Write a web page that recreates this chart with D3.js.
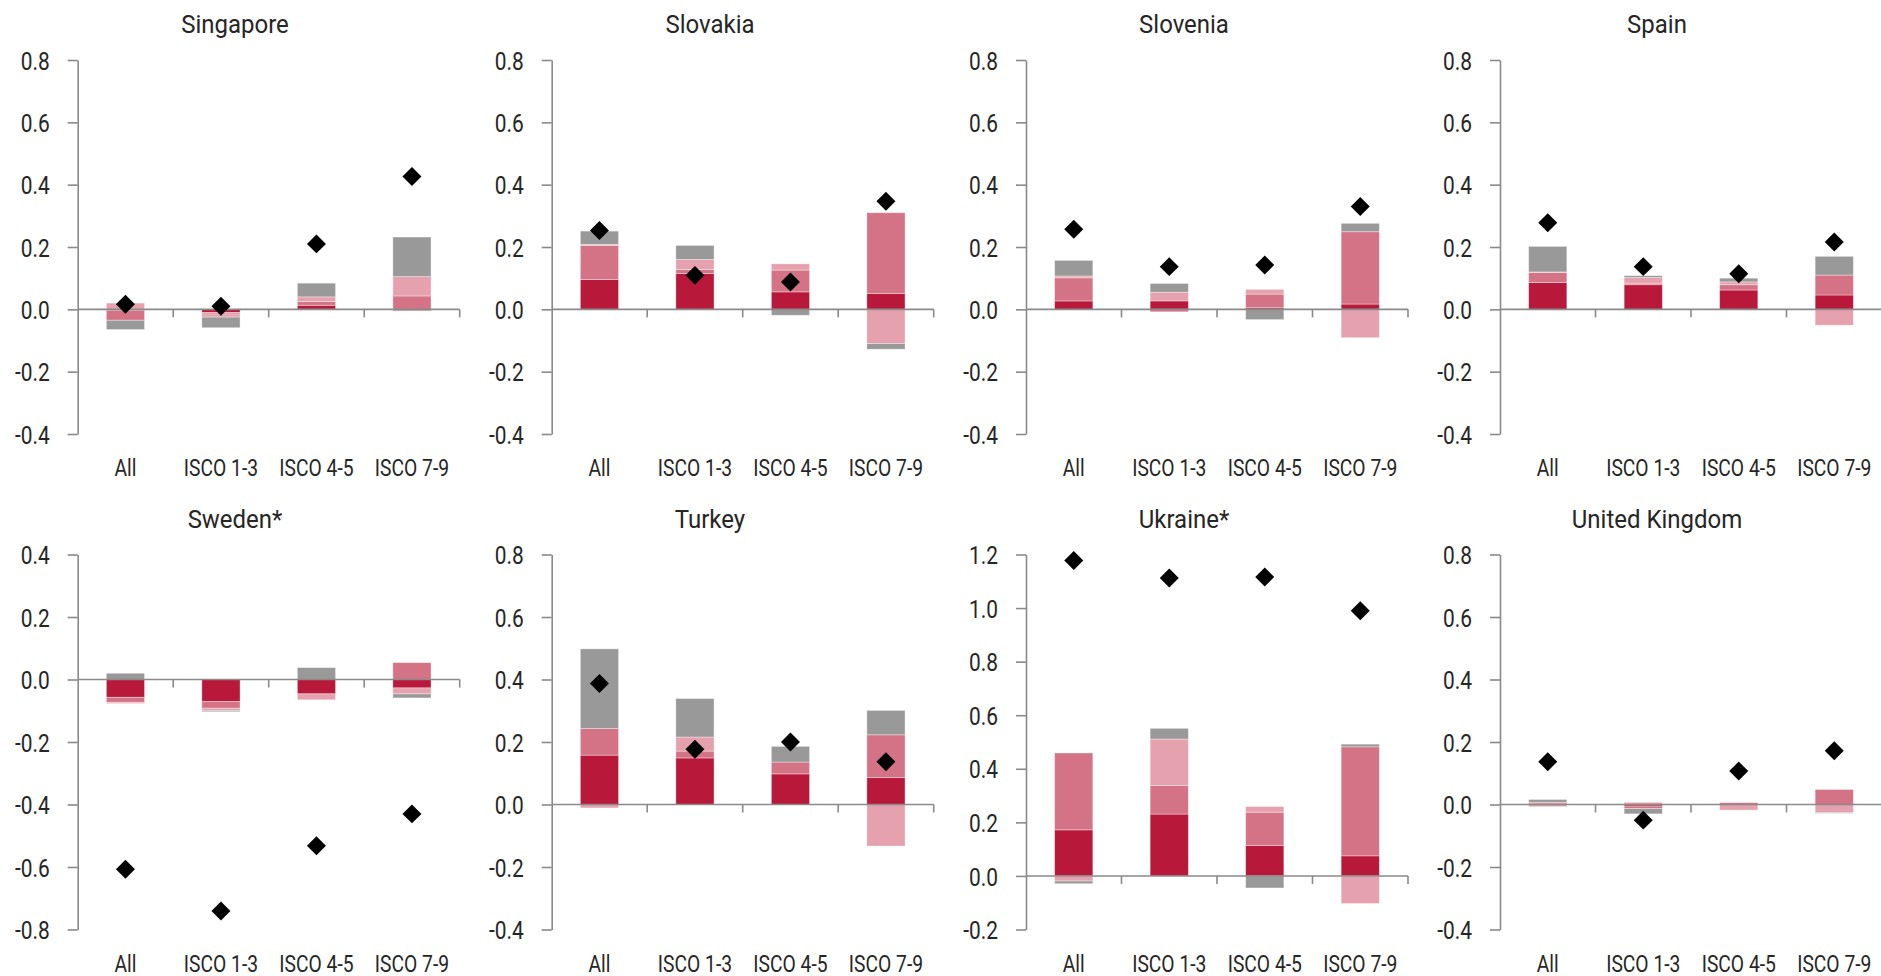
<!DOCTYPE html>
<html>
<head>
  <meta charset="utf-8">
  <script src="https://d3js.org/d3.v7.min.js"></script>
  <style>
    body { margin: 0; background: #fff; }
    text { font-family: Roboto, "Liberation Sans", sans-serif; font-weight: 400; fill: #262626; }
  </style>
</head>
<body>
  <script>
    "use strict";

    // chart values
    var countries = ["Singapore", "Slovakia", "Slovenia", "Spain",
                     "Sweden*", "Turkey", "Ukraine*", "United Kingdom"];
    var categories = ["All", "ISCO 1-3", "ISCO 4-5", "ISCO 7-9"];

    // four stacked components, one row per country
    var seriesA = [
      [-0.003, -0.010, 0.013, -0.004],
      [0.096, 0.115, 0.056, 0.051],
      [0.027, 0.027, 0.005, 0.017],
      [0.086, 0.079, 0.062, 0.046],
      [-0.057, -0.071, -0.046, -0.027],
      [0.158, 0.149, 0.098, 0.086],
      [0.172, 0.231, 0.114, 0.075],
      [0.002, -0.005, 0.000, 0.000]
    ];
    var seriesB = [
      [-0.032, -0.005, 0.012, 0.043],
      [0.109, 0.013, 0.070, 0.259],
      [0.074, -0.008, 0.044, 0.232],
      [0.032, 0.005, 0.017, 0.064],
      [-0.016, -0.021, 0.000, 0.054],
      [0.085, 0.022, 0.038, 0.137],
      [0.287, 0.107, 0.124, 0.407],
      [0.005, -0.008, 0.006, 0.048]
    ];
    var seriesC = [
      [0.020, -0.010, 0.015, 0.062],
      [0.003, 0.032, 0.020, -0.110],
      [0.006, 0.028, 0.015, -0.091],
      [0.002, 0.018, 0.009, -0.051],
      [-0.004, -0.007, -0.019, -0.019],
      [-0.011, 0.045, 0.000, -0.133],
      [-0.019, 0.173, 0.021, -0.103],
      [-0.007, 0.007, -0.018, -0.026]
    ];
    var seriesD = [
      [-0.030, -0.034, 0.044, 0.127],
      [0.043, 0.045, -0.019, -0.018],
      [0.050, 0.028, -0.033, 0.027],
      [0.082, 0.006, 0.012, 0.060],
      [0.020, -0.004, 0.038, -0.013],
      [0.255, 0.123, 0.050, 0.078],
      [-0.010, 0.040, -0.045, 0.010],
      [0.009, -0.017, 0.000, -0.002]
    ];
    // diamonds: total change
    var totals = [
      [0.016, 0.010, 0.210, 0.426],
      [0.253, 0.109, 0.088, 0.347],
      [0.257, 0.137, 0.142, 0.330],
      [0.278, 0.137, 0.114, 0.216],
      [-0.607, -0.741, -0.532, -0.430],
      [0.387, 0.177, 0.200, 0.137],
      [1.178, 1.112, 1.116, 0.990],
      [0.137, -0.050, 0.107, 0.172]
    ];
    var yMin = [-0.4, -0.4, -0.4, -0.4, -0.8, -0.4, -0.2, -0.4];
    var yMax = [0.8, 0.8, 0.8, 0.8, 0.4, 0.8, 1.2, 0.8];

    var allSeries = [seriesA, seriesB, seriesC, seriesD];
    var colors = ["#b8193a", "#d47386", "#e5a1ad", "#999999"];

    // layout
    var W = 1881, H = 976;
    var axisX = [77.7, 551.7, 1026, 1500];
    var titleX = [235, 710, 1184, 1657];
    var plotTop = [60, 554.5];
    var plotH = [374, 375];
    var plotW = 382;
    var axisColor = "#8a8a8a";
    var squeeze = 0.82;   // narrow the font like the condensed face of the original

    var svg = d3.select("body").append("svg")
        .attr("width", W)
        .attr("height", H);

    countries.forEach(function (name, ci) {
      var col = ci % 4, row = Math.floor(ci / 4);
      var x0 = axisX[col], top = plotTop[row], h = plotH[row];

      var g = svg.append("g").attr("transform", "translate(" + x0 + "," + top + ")");

      var x = d3.scaleBand().domain(categories).range([0, plotW]).paddingInner(0).paddingOuter(0);
      var y = d3.scaleLinear().domain([yMin[ci], yMax[ci]]).range([h, 0]);
      var barW = x.bandwidth() * 0.4;

      // title
      svg.append("text")
          .attr("transform", "translate(" + titleX[col] + "," + (top - 27) + ") scale(0.94,1)")
          .attr("text-anchor", "middle")
          .style("font-size", "25.5px")
          .text(name);

      // y axis
      var tv = d3.range(yMin[ci], yMax[ci] + 1e-9, 0.2).map(function (v) { return Math.round(v * 10) / 10; });
      var yAxis = g.append("g")
          .call(d3.axisLeft(y).tickValues(tv).tickSize(10).tickSizeOuter(0).tickPadding(18)
            .tickFormat(function (d) { return d.toFixed(1); }));
      yAxis.select(".domain").attr("stroke", axisColor).attr("stroke-width", 1.6);
      yAxis.selectAll(".tick line").attr("stroke", axisColor).attr("stroke-width", 1.6);
      yAxis.attr("font-family", null).attr("font-size", null);
      yAxis.selectAll(".tick text")
          .attr("x", -28 / squeeze)
          .attr("dy", "0.36em")
          .attr("transform", "scale(" + squeeze + ",1)")
          .attr("fill", null)
          .style("font-size", "25.5px");

      // stacked bars (positives stack up, negatives stack down)
      var segs = [];
      categories.forEach(function (cat, k) {
        var pos = 0, neg = 0;
        allSeries.forEach(function (s, si) {
          var v = s[ci][k];
          if (v >= 0) { segs.push({cat: cat, si: si, y0: pos, y1: pos + v}); pos += v; }
          else { segs.push({cat: cat, si: si, y0: neg + v, y1: neg}); neg += v; }
        });
      });

      g.selectAll("rect.seg").data(segs).enter().append("rect")
          .attr("class", "seg")
          .attr("x", function (d) { return x(d.cat) + (x.bandwidth() - barW) / 2; })
          .attr("width", barW)
          .attr("y", function (d) { return y(d.y1); })
          .attr("height", function (d) { return Math.max(0, y(d.y0) - y(d.y1)); })
          .attr("fill", function (d) { return colors[d.si]; })
          .attr("stroke", "#fff")
          .attr("stroke-opacity", 0.45)
          .attr("stroke-width", 0.8);

      // category axis through zero
      var zeroAxis = g.append("g")
          .attr("transform", "translate(0," + y(0) + ")");
      zeroAxis.append("line")
          .attr("x1", 0).attr("x2", plotW)
          .attr("stroke", axisColor).attr("stroke-width", 1.6);
      zeroAxis.selectAll("line.ct").data(categories).enter().append("line")
          .attr("class", "ct")
          .attr("x1", function (d) { return x(d) + x.step(); })
          .attr("x2", function (d) { return x(d) + x.step(); })
          .attr("y1", 0).attr("y2", 8)
          .attr("stroke", axisColor).attr("stroke-width", 1.6);

      // category labels at the bottom of the plot
      g.selectAll("text.cat").data(categories).enter().append("text")
          .attr("class", "cat")
          .attr("transform", function (d) {
            return "translate(" + (x(d) + x.bandwidth() / 2) + "," + (h + 42) + ") scale(" + squeeze + ",1)";
          })
          .attr("text-anchor", "middle")
          .style("font-size", "23.5px")
          .text(function (d) { return d; });

      // diamonds
      g.selectAll("path.dia").data(categories).enter().append("path")
          .attr("class", "dia")
          .attr("d", d3.symbol(d3.symbolSquare, 180))
          .attr("transform", function (d, k) {
            return "translate(" + (x(d) + x.bandwidth() / 2) + "," + y(totals[ci][k]) + ") rotate(45)";
          })
          .attr("fill", "#000");
    });
  </script>
</body>
</html>
